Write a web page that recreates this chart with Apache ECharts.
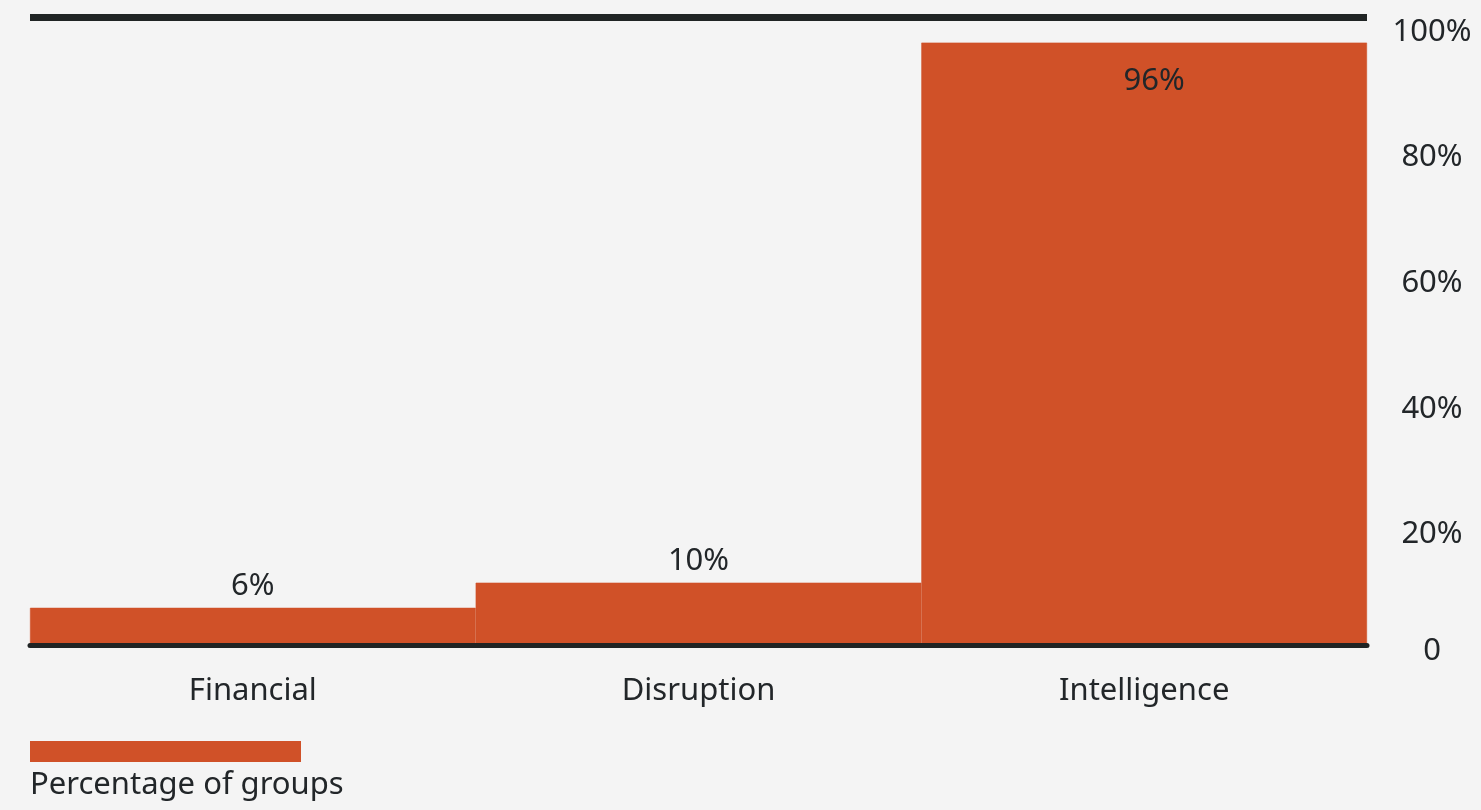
<!DOCTYPE html>
<html>
<head>
<meta charset="utf-8">
<script src="https://cdn.jsdelivr.net/npm/echarts@6/dist/echarts.min.js"></script>
<style>
html,body{margin:0;padding:0;background:#f4f4f4;}
#chart{width:1481px;height:810px;}
</style>
</head>
<body>
<div id="chart"></div>
<script>
const categories = ['Financial', 'Disruption', 'Intelligence'];
const values = [6, 10, 96];
const seriesName = 'Percentage of groups';
const yTicks = [0, 20, 40, 60, 80, 100];

const FONT = '"Noto Sans", sans-serif';
const TXT = '#222629';
const BAR = '#d05128';
const LINE = '#202424';

const chart = echarts.init(document.getElementById('chart'));
chart.setOption({
  backgroundColor: '#f4f4f4',
  animation: false,
  textStyle: { fontFamily: FONT },
  title: {
    text: seriesName,
    left: 25,
    top: 765,
    textStyle: { fontFamily: FONT, fontSize: 31, fontWeight: 'normal', color: TXT }
  },
  legend: {
    show: true,
    left: 30,
    top: 741,
    padding: 0,
    itemWidth: 271,
    itemHeight: 21,
    icon: 'rect',
    itemStyle: { borderWidth: 0 },
    formatter: function () { return ''; },
    data: [seriesName]
  },
  grid: { left: 30, right: 114, top: 17.5, bottom: 164.5, containLabel: false },
  xAxis: [{
    type: 'category',
    data: categories,
    position: 'bottom',
    z: 5,
    axisLine: { show: true, lineStyle: { color: LINE, width: 5, cap: 'round' } },
    axisTick: { show: false },
    axisLabel: { fontFamily: FONT, fontSize: 31, color: TXT, margin: 30 }
  }, {
    type: 'category',
    data: categories,
    position: 'top',
    z: 5,
    axisLine: { show: true, lineStyle: { color: LINE, width: 7, cap: 'butt' } },
    axisTick: { show: false },
    axisLabel: { show: false }
  }],
  yAxis: {
    type: 'value',
    position: 'right',
    min: 0,
    max: 100,
    interval: 20,
    axisLine: { show: false },
    axisTick: { show: false },
    splitLine: { show: false },
    axisLabel: {
      margin: 65,
      align: 'center',
      verticalAlign: 'middle',
      color: TXT,
      fontFamily: FONT,
      fontSize: 31,
      formatter: function (v) {
        return v === 0 ? '{z|0}' : '{p|' + v + '%}';
      },
      rich: {
        z: { fontFamily: FONT, fontSize: 31, color: TXT, padding: [11, 0, 0, 0] },
        p: { fontFamily: FONT, fontSize: 31, color: TXT, padding: [29, 0, 0, 0] }
      }
    }
  },
  series: [{
    name: seriesName,
    type: 'bar',
    xAxisIndex: 0,
    barCategoryGap: 0,
    barGap: 0,
    itemStyle: { color: BAR, borderColor: BAR, borderWidth: 0.6 },
    label: {
      show: true,
      position: 'top',
      distance: 6,
      fontFamily: FONT,
      fontSize: 31,
      color: TXT,
      formatter: '{c}%'
    },
    data: values.map(function (v, i) {
      if (i === values.length - 1) {
        return { value: v, label: { position: 'insideTop', distance: 23, offset: [10, 0] } };
      }
      return v;
    })
  }]
});
</script>
</body>
</html>
